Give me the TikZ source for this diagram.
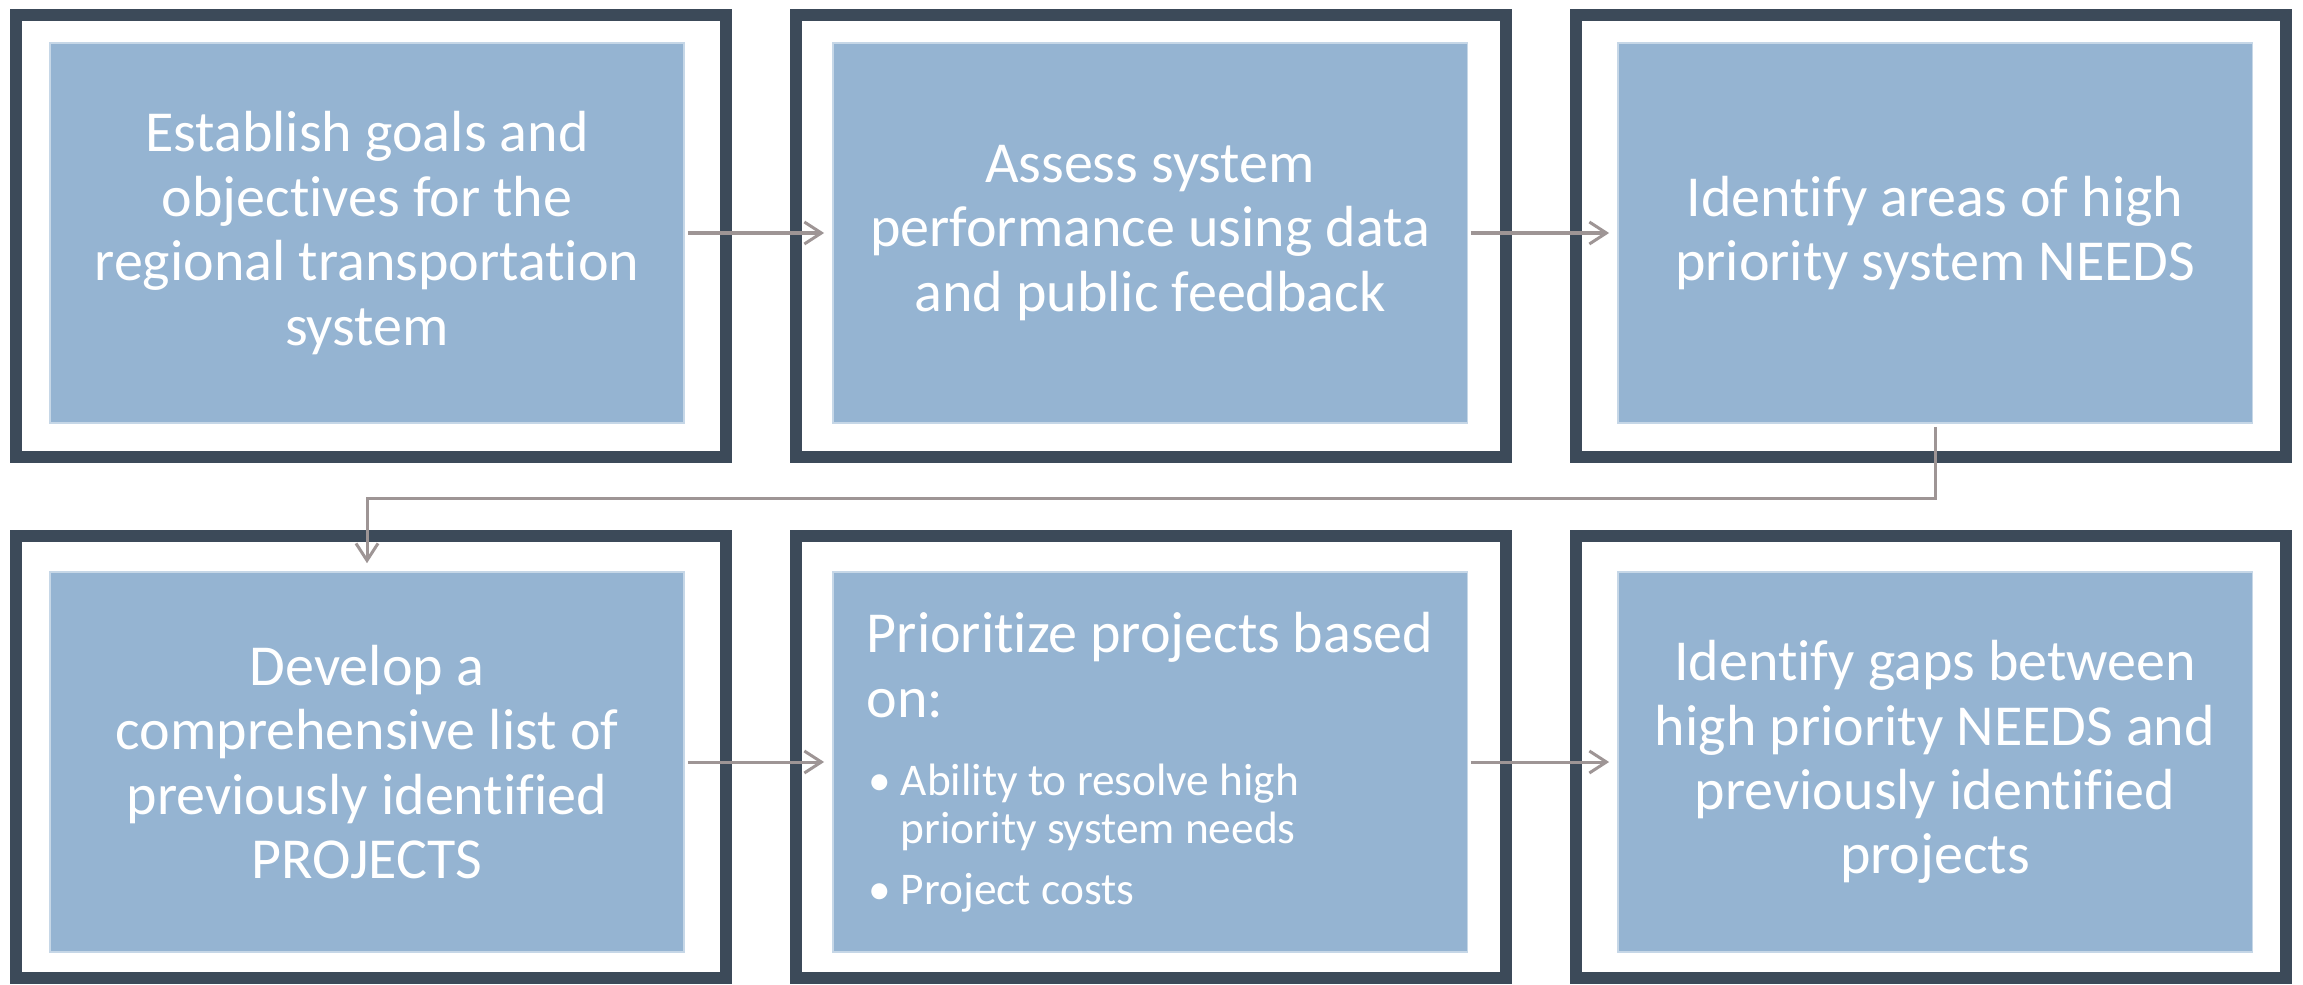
\documentclass[tikz,border=0pt]{standalone}
\usepackage{fontspec}
\setmainfont{Carlito}[Ligatures=NoCommon]
\usetikzlibrary{arrows.meta,calc}
\definecolor{framecol}{HTML}{3C4A59}
\definecolor{boxblue}{HTML}{95B4D2}
\definecolor{boxedge}{HTML}{C6D7E7}
\definecolor{conncol}{HTML}{9E9595}
\tikzset{
  frame/.style={draw=framecol, line width=0.12cm, fill=white, minimum width=7.10cm, minimum height=4.42cm, inner sep=0pt},
  bluebox/.style={fill=boxblue, draw=boxedge, line width=0.4pt, minimum width=6.34cm, minimum height=3.80cm, inner sep=0pt, text=white, align=center, font=\fontsize{16.5pt}{18.3pt}\selectfont},
  conn/.style={draw=conncol, line width=0.03cm, -{Straight Barb[length=0.17cm, width=0.22cm]}, shorten <=0.03cm, shorten >=0.08cm}
}
\begin{document}
\begin{tikzpicture}[x=0.01cm, y=-0.01cm]
\useasboundingbox (0,0) rectangle (2303,985);
% frames
\node[frame] (f1) at (371,236) {};
\node[frame] (f2) at (1151,236) {};
\node[frame] (f3) at (1931,236) {};
\node[frame] (f4) at (371,757) {};
\node[frame] (f5) at (1151,757) {};
\node[frame] (f6) at (1931,757) {};
% blue boxes
\node[bluebox] (b1) at (367,233) {Establish goals and\\objectives for the\\regional transportation\\system};
\node[bluebox] (b2) at (1150,233) {Assess system\\performance using data\\and public feedback};
\node[bluebox] (b3) at (1935,233) {Identify areas of high\\priority system NEEDS};
\node[bluebox] (b4) at (367,762) {Develop a\\comprehensive list of\\previously identified\\PROJECTS};
\node[bluebox, align=flush left, text width=5.66cm, inner xsep=0.33cm] (b5) at (1150,762) {%
{\fontsize{16.5pt}{18.5pt}\selectfont Prioritize projects based\par on:\par}%
\vspace{0.30cm}%
{\fontsize{12.9pt}{13.7pt}\selectfont
\makebox[0.34cm][l]{\hspace{0.02cm}\textbullet}Ability to resolve high\par
\hspace*{0.34cm}priority system needs\par
\vspace{0.12cm}%
\makebox[0.34cm][l]{\hspace{0.02cm}\textbullet}Project costs\par}};
\node[bluebox] (b6) at (1935,762) {Identify gaps between\\high priority NEEDS and\\previously identified\\projects};
% connectors
\draw[conn] (b1.east) -- (b2.west);
\draw[conn] (b2.east) -- (b3.west);
\draw[conn] (b4.east) -- (b5.west);
\draw[conn] (b5.east) -- (b6.west);
\coordinate (m) at (1000,498);
\draw[conn] (b3.south) -- (b3.south |- m) -- (b4.north |- m) -- (b4.north);
\end{tikzpicture}
\end{document}
